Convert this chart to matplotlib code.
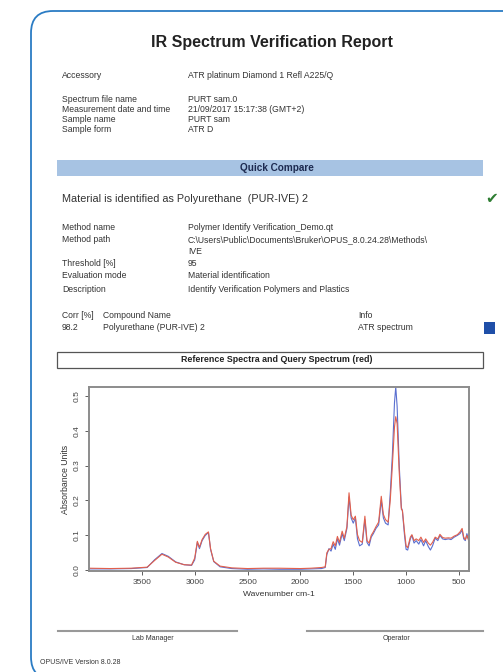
"""IR spectrum verification report page with reference/query spectra."""

import matplotlib
matplotlib.use('Agg')
import matplotlib.pyplot as plt
from matplotlib.patches import FancyBboxPatch, Rectangle

plt.rcParams['font.family'] = ['Liberation Sans', 'DejaVu Sans']

# header info
info_labels = ['Accessory', 'Spectrum file name', 'Measurement date and time',
               'Sample name', 'Sample form']
info_values = ['ATR platinum Diamond 1 Refl A225/Q', 'PURT sam.0',
               '21/09/2017 15:17:38 (GMT+2)', 'PURT sam', 'ATR D']

method_labels = ['Method name', 'Method path', '', 'Threshold [%]',
                 'Evaluation mode', 'Description']
method_values = ['Polymer Identify Verification_Demo.qt',
                 'C:\\Users\\Public\\Documents\\Bruker\\OPUS_8.0.24.28\\Methods\\',
                 'IVE', '95', 'Material identification',
                 'Identify Verification Polymers and Plastics']

result_corr = '98.2'
result_name = 'Polyurethane (PUR-IVE) 2'
result_info = 'ATR spectrum'

# spectra (wavenumber cm-1, absorbance)
wavenumber = [4000, 3800, 3600, 3450, 3380, 3310, 3250, 3180, 3100, 3030,
              3000, 2975, 2955, 2930, 2900, 2870, 2850, 2820, 2760, 2650,
              2500, 2350, 2200, 2000, 1900, 1800, 1765, 1750, 1730, 1710,
              1690, 1670, 1650, 1630, 1605, 1585, 1560, 1540, 1520, 1500,
              1480, 1460, 1440, 1415, 1390, 1370, 1350, 1330, 1310, 1285,
              1260, 1235, 1215, 1195, 1170, 1150, 1130, 1110, 1098, 1085,
              1065, 1045, 1035, 1015, 1000, 985, 960, 945, 925, 905,
              880, 860, 835, 815, 790, 770, 750, 725, 700, 680,
              655, 630, 600, 575, 545, 515, 490, 470, 455, 440,
              425, 405]
reference = [0.004, 0.004, 0.005, 0.008, 0.030, 0.048, 0.040, 0.024, 0.016, 0.014,
             0.030, 0.080, 0.062, 0.085, 0.100, 0.108, 0.060, 0.025, 0.010, 0.005,
             0.003, 0.004, 0.003, 0.003, 0.004, 0.005, 0.008, 0.045, 0.062, 0.055,
             0.075, 0.060, 0.090, 0.072, 0.105, 0.085, 0.120, 0.210, 0.150, 0.135,
             0.150, 0.090, 0.070, 0.075, 0.145, 0.080, 0.070, 0.095, 0.105, 0.120,
             0.130, 0.200, 0.150, 0.135, 0.130, 0.220, 0.330, 0.480, 0.525, 0.470,
             0.300, 0.180, 0.170, 0.100, 0.060, 0.058, 0.090, 0.100, 0.078, 0.085,
             0.075, 0.088, 0.070, 0.085, 0.068, 0.058, 0.070, 0.092, 0.085, 0.100,
             0.090, 0.088, 0.090, 0.088, 0.095, 0.100, 0.105, 0.115, 0.090, 0.085,
             0.105, 0.085]
query = [0.006, 0.005, 0.006, 0.009, 0.028, 0.046, 0.038, 0.023, 0.016, 0.015,
         0.035, 0.083, 0.066, 0.088, 0.103, 0.110, 0.062, 0.026, 0.012, 0.007,
         0.005, 0.006, 0.006, 0.005, 0.006, 0.008, 0.010, 0.050, 0.060, 0.062,
         0.082, 0.070, 0.097, 0.080, 0.112, 0.092, 0.125, 0.222, 0.158, 0.145,
         0.155, 0.102, 0.085, 0.080, 0.155, 0.085, 0.078, 0.100, 0.110, 0.125,
         0.138, 0.212, 0.160, 0.145, 0.138, 0.200, 0.300, 0.410, 0.440, 0.420,
         0.280, 0.175, 0.172, 0.110, 0.070, 0.065, 0.095, 0.102, 0.085, 0.090,
         0.085, 0.095, 0.080, 0.090, 0.078, 0.072, 0.080, 0.095, 0.090, 0.103,
         0.094, 0.092, 0.093, 0.092, 0.098, 0.102, 0.110, 0.120, 0.095, 0.088,
         0.100, 0.082]

x_ticks = [3500, 3000, 2500, 2000, 1500, 1000, 500]
y_ticks = [0.0, 0.1, 0.2, 0.3, 0.4, 0.5]

W, H = 503, 672
fig = plt.figure(figsize=(W / 100, H / 100), dpi=100)

# page canvas in pixel coordinates
page = fig.add_axes([0, 0, 1, 1])
page.set_xlim(0, W)
page.set_ylim(H, 0)
page.axis('off')

page.add_patch(FancyBboxPatch((31, 11), 560, 668,
                              boxstyle='round,pad=0,rounding_size=22',
                              fc='white', ec='#2b7cc4', lw=1.3))

txt = '#333333'
fs = 6.2

page.text(272, 43, 'IR Spectrum Verification Report', ha='center', va='center',
          fontsize=11.5, fontweight='bold', color='#222222')

info_y = [75, 100, 110, 120, 130]
for y, lab, val in zip(info_y, info_labels, info_values):
    page.text(62, y, lab, fontsize=fs, va='center', color=txt)
    page.text(188, y, val, fontsize=fs, va='center', color=txt)

page.add_patch(Rectangle((57, 160), 426, 16, fc='#a7c3e3', ec='none'))
page.text(277, 168, 'Quick Compare', ha='center', va='center', fontsize=7.2,
          fontweight='bold', color='#1d2a50')

page.text(62, 199, 'Material is identified as Polyurethane  (PUR-IVE) 2',
          fontsize=7.8, va='center', color=txt)
page.text(492, 199, '\u2714', ha='center', va='center', fontsize=11,
          color='#2e7d32', family=['DejaVu Sans'])

method_y = [228, 240, 252, 264, 276, 289]
for y, lab, val in zip(method_y, method_labels, method_values):
    page.text(62, y, lab, fontsize=fs, va='center', color=txt)
    page.text(188, y, val, fontsize=fs, va='center', color=txt)

page.text(62, 315, 'Corr [%]', fontsize=fs, va='center', color=txt)
page.text(103, 315, 'Compound Name', fontsize=fs, va='center', color=txt)
page.text(358, 315, 'Info', fontsize=fs, va='center', color=txt)
page.text(62, 328, result_corr, fontsize=fs, va='center', color=txt)
page.text(103, 328, result_name, fontsize=fs, va='center', color=txt)
page.text(358, 328, result_info, fontsize=fs, va='center', color=txt)
page.add_patch(Rectangle((484, 322), 11, 12, fc='#1f4fa8', ec='none'))

page.add_patch(Rectangle((57, 352), 426, 16, fc='white', ec='#555555', lw=0.9))
page.text(277, 360, 'Reference Spectra and Query Spectrum (red)', ha='center',
          va='center', fontsize=6.4, fontweight='bold', color='#222222')

# signature lines and footer
page.plot([58, 237], [631, 631], color='#999999', lw=1.5)
page.plot([307, 483], [631, 631], color='#999999', lw=1.5)
page.text(153, 638, 'Lab Manager', ha='center', va='center', fontsize=5, color=txt)
page.text(397, 638, 'Operator', ha='center', va='center', fontsize=5, color=txt)
page.text(40, 663, 'OPUS/IVE Version 8.0.28', fontsize=5, va='center', color=txt)

# spectrum chart
x0, x1, y0, y1 = 89, 469, 387, 571
ax = fig.add_axes([x0 / W, (H - y1) / H, (x1 - x0) / W, (y1 - y0) / H])
ax.plot(wavenumber, reference, color='#5a6fd0', lw=0.8)
ax.plot(wavenumber, query, color='#e2604c', lw=0.8)
ax.set_xlim(4000, 405)
ax.set_ylim(-0.002, 0.525)
ax.set_xticks(x_ticks)
ax.set_yticks(y_ticks)
ax.set_yticklabels([f'{v:.1f}' for v in y_ticks], rotation=90, va='center')
ax.tick_params(labelsize=6, colors='#444444', length=3, width=0.6, pad=3)
for s in ax.spines.values():
    s.set_color('#8c8c8c')
    s.set_linewidth(1.4)
ax.set_xlabel('Wavenumber cm-1', fontsize=6.1, color=txt, labelpad=3)
ax.set_ylabel('Absorbance Units', fontsize=6.3, color=txt, labelpad=3)

fig.savefig('out.png', dpi=100)
